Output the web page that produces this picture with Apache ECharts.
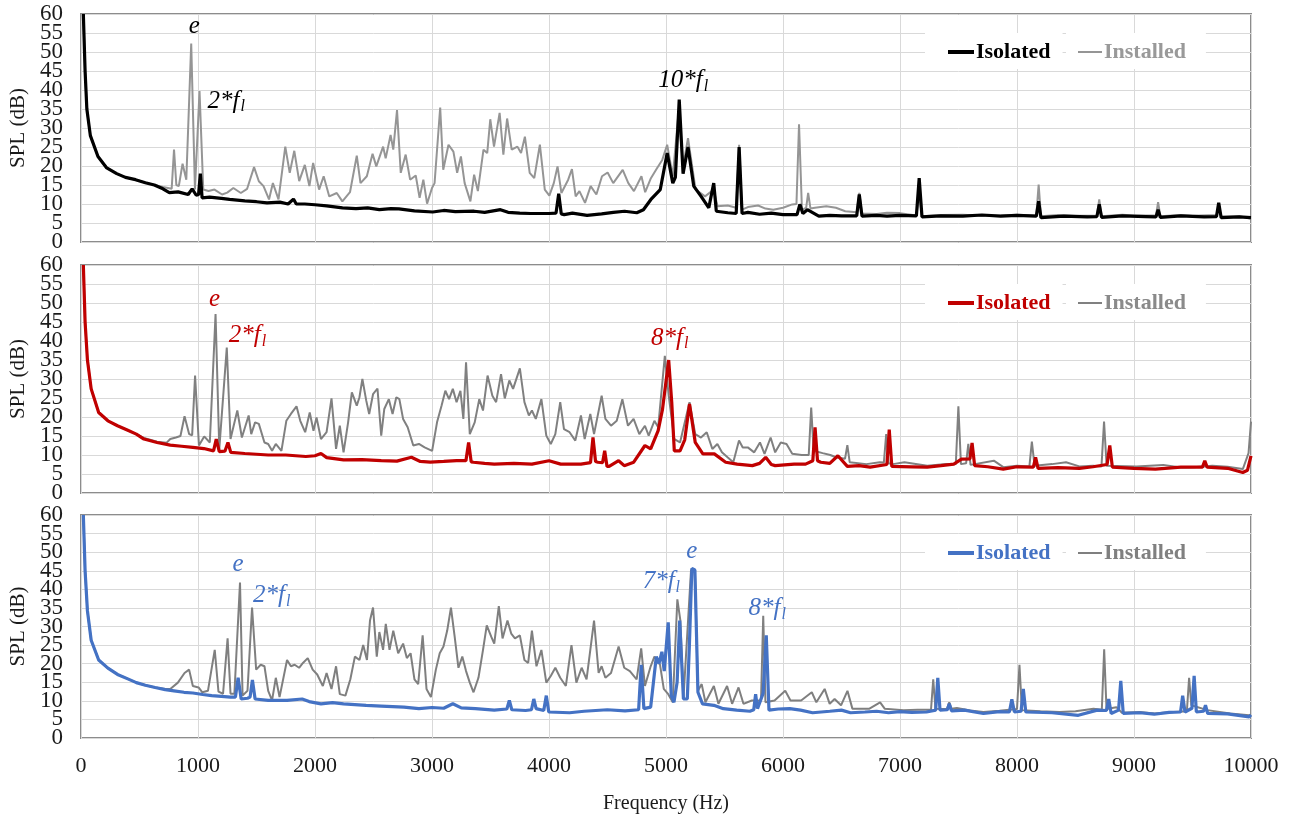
<!DOCTYPE html>
<html>
<head>
<meta charset="utf-8">
<script src="https://cdn.jsdelivr.net/npm/echarts@6/dist/echarts.min.js"></script>
<style>
  html, body { margin: 0; padding: 0; background: #fff; }
  #chart { width: 1292px; height: 815px; }
</style>
</head>
<body>
<div id="chart"></div>
<script>
// Frequency axis ticks (Hz) and SPL ticks (dB)
const freqTicks = [0, 1000, 2000, 3000, 4000, 5000, 6000, 7000, 8000, 9000, 10000];
const splTicks = [0, 5, 10, 15, 20, 25, 30, 35, 40, 45, 50, 55, 60];

// Panel 1 spectra: [frequency Hz, SPL dB]
const isolated1 = [[20,60],[35,45],[50,35],[80,28],[145,22.5],[220,19.5],[305,18],[380,17],[466,16.4],[550,15.6],[627,15],[700,14],[755,13],[830,13.2],[916,12.5],[950,14],[985,12.3],[1005,12.5],[1020,18],[1035,11.6],[1100,11.8],[1200,11.5],[1270,11.2],[1400,10.8],[1500,10.6],[1590,10.3],[1700,10.5],[1770,10],[1816,11.3],[1840,10],[1913,10],[2000,9.8],[2100,9.5],[2235,9],[2350,8.8],[2450,9],[2550,8.5],[2650,8.8],[2717,8.7],[2850,8.2],[3006,7.9],[3100,8.3],[3200,8],[3360,8.1],[3450,7.8],[3585,8.5],[3650,7.8],[3750,7.6],[3842,7.5],[4000,7.5],[4060,7.6],[4083,12.7],[4105,7.4],[4130,7.2],[4200,7.6],[4325,7],[4450,7.4],[4550,7.8],[4646,8.1],[4750,7.7],[4807,8.5],[4871,11.2],[4951,13.8],[5010,23.4],[5058,15.5],[5080,17],[5113,37.5],[5146,18],[5188,25],[5237,14.7],[5300,12],[5366,9],[5408,15.5],[5430,8.1],[5528,7.7],[5600,7.5],[5625,25],[5650,7.5],[5700,7.8],[5800,7.3],[5900,7.6],[6000,7.2],[6120,7.2],[6144,9.9],[6170,7.5],[6208,8.5],[6306,6.8],[6400,7],[6500,6.9],[6630,6.9],[6652,12.5],[6675,6.8],[6800,7],[6889,6.8],[7000,7],[7140,6.9],[7164,16.8],[7188,6.6],[7350,6.9],[7537,6.8],[7700,7.1],[7861,6.8],[8000,7],[8165,6.8],[8185,10.7],[8205,6.4],[8400,6.8],[8600,6.6],[8683,6.7],[8703,9.9],[8723,6.5],[8900,6.9],[9100,6.7],[9188,6.6],[9206,8.5],[9225,6.5],[9400,6.9],[9600,6.6],[9705,6.7],[9724,10.3],[9745,6.4],[9900,6.6],[10000,6.4]];
const installed1 = [[20,60],[35,45],[50,35],[80,28],[145,22.5],[220,19.5],[305,18],[380,17],[466,16.4],[550,15.6],[627,15],[700,14.5],[775,14],[795,24.3],[815,15],[836,14.7],[868,20.6],[900,16.4],[942,52.2],[974,13.8],[1013,39.7],[1045,13.8],[1090,13.4],[1141,13.8],[1206,12.5],[1250,13],[1302,14.2],[1366,12.9],[1420,14],[1479,19.7],[1520,16],[1560,14.7],[1607,11.2],[1640,15.5],[1688,11.2],[1746,25.1],[1784,18.2],[1823,24],[1865,16],[1913,20.3],[1952,14.7],[1984,20.8],[2035,13.8],[2074,17.3],[2122,12],[2186,12.9],[2234,10.7],[2299,13.1],[2357,22.7],[2389,15.5],[2443,17.3],[2492,23.2],[2524,19.9],[2582,25.1],[2604,22],[2646,28.2],[2669,24.3],[2701,34.7],[2733,18.2],[2775,23],[2813,16.4],[2861,17.5],[2894,11.6],[2926,16.4],[2958,10.1],[3000,14.2],[3022,15.5],[3070,35.4],[3096,19],[3141,25.6],[3183,23.8],[3215,18.2],[3247,22.5],[3279,15.5],[3328,10.7],[3360,17.7],[3392,13.4],[3440,24.3],[3472,23.4],[3498,32.3],[3530,25.1],[3578,34],[3610,23],[3642,32.5],[3681,24.3],[3730,25.1],[3761,23.4],[3794,27.7],[3835,18.2],[3874,16.8],[3922,25.6],[3964,13.8],[4003,12.2],[4041,15.5],[4073,19.9],[4106,12.9],[4164,16.4],[4196,19.2],[4228,12],[4260,13.4],[4308,10.3],[4356,14.7],[4405,12.5],[4453,17.3],[4501,18.3],[4549,15.5],[4630,19],[4678,15.5],[4726,13.4],[4790,17.3],[4822,13.1],[4871,16.8],[4919,19.2],[4968,21.6],[5010,25.6],[5058,17.3],[5107,34],[5146,19.9],[5188,27.3],[5253,13.8],[5334,12],[5408,13.8],[5440,9.4],[5528,9.6],[5600,9],[5625,25.6],[5650,8.5],[5700,9.2],[5787,9.6],[5850,8.8],[5917,8.5],[6000,9],[6079,9.9],[6115,10],[6137,31],[6162,8.5],[6198,9],[6215,12.9],[6235,8.8],[6273,9],[6370,9.4],[6452,9],[6532,8.1],[6630,7.8],[6652,12.9],[6675,7.5],[6800,7.4],[6889,7.7],[7000,7.6],[7140,7],[7164,12.5],[7188,6.8],[7350,7.1],[7537,7.2],[7700,6.9],[7861,7],[8000,7.2],[8165,7],[8185,15.1],[8205,6.8],[8350,7.1],[8500,6.9],[8683,7],[8703,11.2],[8723,6.8],[8900,7.2],[9000,7],[9188,7],[9206,10.5],[9225,6.8],[9400,7.1],[9500,6.9],[9705,7.1],[9724,9],[9745,6.7],[9900,6.8],[10000,6.1]];

// Panel 2 spectra
const isolated2 = [[20,60],[35,45],[55,35],[87,27.4],[151,21.2],[230,19],[312,17.7],[400,16.5],[473,15.5],[538,14.2],[650,13.3],[763,12.6],[860,12.3],[956,12],[1050,11.7],[1133,11.1],[1156,14.2],[1182,10.9],[1230,11],[1256,13.3],[1280,10.7],[1400,10.4],[1500,10.2],[1600,10],[1750,10],[1922,9.6],[2000,9.8],[2051,10.4],[2100,9.3],[2244,8.7],[2400,8.8],[2566,8.5],[2700,8.4],[2824,9.4],[2900,8.3],[2985,8.1],[3100,8.3],[3210,8.5],[3290,8.5],[3313,13.3],[3335,8.2],[3355,8.1],[3450,7.8],[3532,7.6],[3700,7.8],[3854,7.6],[4000,8.5],[4100,7.6],[4176,7.6],[4273,7.6],[4355,8],[4376,14.6],[4398,8.3],[4418,8.1],[4458,8],[4476,11.1],[4496,7],[4514,7],[4595,8.5],[4643,7.2],[4724,8.1],[4820,12.5],[4869,11.6],[4933,16.4],[4970,22],[5023,35],[5049,23.9],[5071,11.1],[5120,11.1],[5160,14],[5201,23.4],[5250,13.3],[5315,10.3],[5413,10.3],[5510,8.1],[5608,7.6],[5738,7.2],[5800,7.8],[5852,9.4],[5900,7.5],[5933,7.2],[6095,7.6],[6193,7.6],[6255,8.5],[6274,17.3],[6295,8.5],[6323,8.1],[6400,7.8],[6469,9.8],[6550,7],[6650,7.2],[6745,6.8],[6888,7.5],[6908,16.7],[6930,7],[7100,6.9],[7233,6.8],[7350,7.2],[7460,7.6],[7525,8.9],[7598,9],[7616,13.2],[7638,7.2],[7750,6.9],[7883,6.3],[8000,6.9],[8140,6.8],[8159,9.4],[8180,6.5],[8350,6.7],[8533,6.5],[8650,6.9],[8770,7.5],[8793,12.5],[8815,6.8],[9000,6.5],[9183,6.3],[9400,6.8],[9585,6.8],[9605,8.5],[9625,6.8],[9800,6.5],[9930,5.4],[9970,6],[10000,9.8]];
const installed2 = [[20,60],[35,45],[55,35],[87,27.4],[151,21.2],[230,19],[312,17.7],[400,16.5],[473,15.5],[538,14.5],[650,13.5],[730,13.2],[763,14.2],[811,14.6],[850,15],[885,20.2],[924,15.5],[950,15.2],[975,30.9],[1008,12.5],[1053,14.9],[1101,13.3],[1150,47.1],[1182,11.6],[1246,38.3],[1278,14.2],[1336,21.7],[1375,14.6],[1433,20.4],[1455,15.5],[1488,18.6],[1520,18.2],[1568,13.3],[1600,12.9],[1633,11.1],[1665,12.9],[1713,11.1],[1755,19],[1794,20.8],[1842,22.8],[1874,19],[1916,16],[1955,21.2],[1987,16.4],[2013,19.9],[2051,14.2],[2099,16],[2141,24.9],[2180,11.6],[2212,17.7],[2244,10.7],[2283,18.6],[2315,26.5],[2357,23],[2380,25.2],[2405,30],[2438,24.3],[2463,20.8],[2496,26],[2534,27.5],[2566,15.1],[2592,22.1],[2631,24.7],[2663,20.8],[2695,25.2],[2721,24.7],[2753,19.5],[2792,17.3],[2840,12.5],[2888,12.9],[2937,12],[3001,11.1],[3043,18.6],[3082,23],[3114,26.9],[3146,24.7],[3178,27.4],[3210,23.9],[3243,26.9],[3268,19.5],[3291,34.4],[3323,15.5],[3365,18.6],[3404,24.7],[3436,21.7],[3475,30.9],[3516,25.6],[3548,23.9],[3590,31.3],[3622,24.9],[3661,29.6],[3693,27.4],[3751,32.8],[3790,23.9],[3828,20.4],[3854,21.7],[3887,19.5],[3935,24.7],[3977,15.1],[4015,12.9],[4054,15.5],[4096,23.9],[4128,16.8],[4176,16],[4225,13.8],[4273,20.4],[4305,14.2],[4353,20.8],[4385,15.5],[4450,25.6],[4482,19.5],[4530,17.7],[4579,19],[4627,24.7],[4675,17.7],[4723,19.5],[4772,15.5],[4820,17.7],[4852,15.1],[4901,19],[4933,17.3],[4990,36.1],[5023,25.6],[5071,14.2],[5120,13.3],[5201,23.9],[5250,15.5],[5299,14.6],[5348,16],[5396,11.6],[5439,12.9],[5478,10.7],[5526,9.4],[5575,8.1],[5624,13.8],[5656,12],[5699,12],[5754,10.7],[5803,13.3],[5842,10.3],[5894,14.6],[5933,10.7],[5981,13.3],[6030,12.9],[6079,10.3],[6160,10],[6220,10],[6241,22.5],[6262,11.1],[6339,10.5],[6404,10],[6453,9.4],[6530,9],[6550,12.6],[6570,8.1],[6713,7.6],[6827,8.1],[6862,8],[6882,15.5],[6902,7.8],[6940,7.6],[7038,8.1],[7233,7.2],[7395,7.6],[7477,7.6],[7499,22.8],[7521,7.6],[7565,7.8],[7584,12.9],[7603,7.4],[7802,8.5],[7883,6.8],[8000,7.2],[8106,7],[8127,13.5],[8150,7.2],[8300,7.6],[8419,8.1],[8533,7],[8650,7.2],[8722,7],[8744,18.8],[8766,7.2],[9020,7],[9250,7.4],[9400,6.7],[9508,6.8],[9670,7.2],[9800,6.9],[9930,6.3],[9979,10.5],[10000,18.8]];

// Panel 3 spectra
const isolated3 = [[20,60],[35,45],[55,34.2],[87,26.3],[151,21],[230,18.8],[312,17.1],[400,15.9],[473,14.9],[550,14.2],[634,13.6],[720,13],[795,12.7],[880,12.3],[956,12.1],[1040,11.7],[1117,11.4],[1200,11.2],[1278,11],[1320,11],[1343,16.2],[1369,10.5],[1423,10.7],[1445,11],[1465,15.6],[1488,10.5],[1600,10.1],[1761,10.1],[1890,10.5],[1950,9.8],[2051,9.2],[2150,9.5],[2244,9.2],[2437,8.8],[2566,8.6],[2760,8.3],[2888,7.9],[3000,8.2],[3100,8],[3178,9.2],[3250,8.1],[3371,7.9],[3532,7.5],[3640,7.8],[3661,10.1],[3682,7.6],[3800,7.4],[3850,7.6],[3870,10.5],[3890,7.9],[3955,7.4],[3977,11.4],[3998,7],[4176,6.8],[4300,7.2],[4498,7.6],[4650,7.3],[4766,7.6],[4788,19.7],[4811,7.9],[4869,8.3],[4917,21.9],[4940,20],[4965,23.2],[4985,18],[5019,31.1],[5045,11.4],[5068,9.6],[5095,15],[5117,31.6],[5149,10.5],[5182,10.5],[5200,25],[5221,45.6],[5247,45.2],[5273,12.3],[5312,9.2],[5409,8.8],[5490,7.9],[5604,7.5],[5717,7.2],[5750,7.6],[5766,11.8],[5782,7.9],[5830,12],[5857,27.6],[5880,7.5],[5960,7.8],[6058,7.9],[6150,7.5],[6253,6.8],[6400,7.2],[6500,7.5],[6577,6.8],[6700,7],[6800,7.2],[6902,6.8],[7000,7.1],[7100,6.9],[7226,7],[7305,7.5],[7323,16.2],[7342,7.5],[7405,7.6],[7421,9.2],[7440,7.3],[7550,7.5],[7713,6.6],[7850,7.1],[7935,7],[7956,10.4],[7978,7],[8035,7.2],[8054,13.2],[8075,7],[8300,6.8],[8524,6.1],[8686,7.5],[8765,7.4],[8784,10.5],[8805,6.6],[8868,7.5],[8887,15.4],[8908,6.6],[9050,6.8],[9173,6.4],[9300,6.9],[9398,7],[9416,11.4],[9436,7],[9495,8],[9514,16.7],[9533,7],[9595,7.2],[9611,8.8],[9630,6.6],[9800,6.5],[9984,5.7],[10000,6.2]];
const installed3 = [[20,60],[35,45],[55,34.2],[87,26.3],[151,21],[230,18.8],[312,17.1],[400,15.9],[473,14.9],[550,14.2],[634,13.6],[720,13.2],[763,13.2],[828,14.9],[885,17.5],[924,18.4],[956,14],[1005,13.6],[1037,12.3],[1085,12.7],[1143,23.7],[1175,12.5],[1214,11.9],[1253,26.8],[1278,11.9],[1311,11.9],[1359,41.8],[1381,11.4],[1423,12.7],[1462,35.1],[1497,18.4],[1536,19.7],[1568,19.3],[1600,12.7],[1633,10.1],[1665,16.2],[1697,11],[1761,21],[1794,19.3],[1826,19.7],[1864,18.9],[1897,20.2],[1938,21.5],[1980,18.4],[2019,17.1],[2067,14],[2099,17.5],[2141,13.2],[2180,19.3],[2212,11.8],[2260,11.4],[2302,15.8],[2341,21.9],[2380,21],[2412,25],[2444,21],[2470,31.6],[2496,35.1],[2528,21.9],[2550,28.5],[2582,23.7],[2605,30.7],[2637,23.7],[2669,28.9],[2711,22.8],[2753,25.4],[2785,21.5],[2817,22.8],[2850,15.8],[2882,14.5],[2920,27.6],[2953,13.2],[2991,11],[3033,18.4],[3066,22.8],[3098,24.6],[3130,28.9],[3162,35.1],[3194,27.2],[3226,18.9],[3259,21.9],[3291,18],[3323,14.9],[3355,12.3],[3397,16.2],[3436,23.7],[3468,30.3],[3507,27.2],[3532,25.4],[3571,35.5],[3603,26.8],[3645,31.6],[3677,28.1],[3709,26.8],[3751,27.6],[3790,21],[3822,20.2],[3854,28.9],[3893,19.3],[3935,23.7],[3977,14.9],[4015,16.7],[4054,18.9],[4096,16.2],[4144,14],[4192,25],[4234,14.9],[4279,18.9],[4321,15.8],[4385,31.6],[4424,17.5],[4450,19.3],[4482,16.2],[4530,17.5],[4595,24.6],[4643,18.9],[4691,18],[4749,15.8],[4788,24.1],[4820,14],[4869,19.3],[4901,21.9],[4949,19.7],[4981,13.2],[5019,11.8],[5058,9.6],[5097,37.3],[5123,31.6],[5149,10.5],[5214,45.2],[5247,44.7],[5273,12.7],[5305,14.5],[5337,9.6],[5409,14],[5448,9.2],[5522,14],[5565,9.2],[5620,13.6],[5662,9.2],[5733,10.1],[5782,10.1],[5812,10],[5831,32.9],[5850,9.6],[5928,10.1],[6019,12.7],[6064,10.1],[6155,10.1],[6246,12.3],[6285,9.6],[6356,13.2],[6399,9.2],[6441,10.5],[6496,8.8],[6551,12.7],[6593,7.9],[6739,7.9],[6830,9.6],[6869,7.9],[7031,7.5],[7150,7.6],[7265,7.6],[7284,15.8],[7303,7.9],[7400,7.8],[7421,9.6],[7440,7.9],[7486,8.1],[7600,7.4],[7713,7],[7850,7.3],[8000,7.8],[8021,19.7],[8042,7.5],[8200,7.2],[8362,7],[8500,7.2],[8654,7.9],[8725,7.6],[8745,23.9],[8765,7.8],[8849,8.3],[8897,6.8],[9050,7],[9173,6.6],[9300,6.9],[9452,7.2],[9471,16.2],[9490,8.8],[9627,7.5],[9822,6.6],[9984,6.1],[10000,6.3]];

// Tonal peak annotations: panel, spectrum, peak frequency, text, pixel offset, alignment
const peakNotes = [
  { panel: 0, data: installed1, f: 942,  text: 'e',   dx: 3,   dy: -17, align: 'center' },
  { panel: 0, data: installed1, f: 1013, text: 'f2',  dx: 8,   dy: 10,  align: 'left' },
  { panel: 0, data: isolated1,  f: 5113, text: 'f10', dx: 4,   dy: -19, align: 'center' },
  { panel: 1, data: installed2, f: 1150, text: 'e',   dx: -1,  dy: -15, align: 'center' },
  { panel: 1, data: installed2, f: 1246, text: 'f2',  dx: 2,   dy: -12, align: 'left' },
  { panel: 1, data: isolated2,  f: 5023, text: 'f8',  dx: 1,   dy: -22, align: 'center' },
  { panel: 2, data: installed3, f: 1359, text: 'e',   dx: -2,  dy: -18, align: 'center' },
  { panel: 2, data: installed3, f: 1462, text: 'f2',  dx: 1,   dy: -12, align: 'left' },
  { panel: 2, data: installed3, f: 5097, text: 'f7',  dx: -16, dy: -18, align: 'center' },
  { panel: 2, data: isolated3,  f: 5221, text: 'e',   dx: 0,   dy: -17, align: 'center' },
  { panel: 2, data: installed3, f: 5831, text: 'f8',  dx: 4,   dy: -7,  align: 'center' }
];

const panelColors = ['#000000', '#c00000', '#4472c4'];
const installedColors = ['#959595', '#808080', '#7f7f7f'];
const installedLegendColors = ['#999999', '#8a8a8a', '#808080'];
const serif = '"Liberation Serif", "Times New Roman", serif';

const gridTops = [14, 265, 515];
const gridHeight = 228;

function noteFormatter(text) {
  if (text === 'e') return '{m|e}';
  return '{m|' + text.slice(1) + '*f}{s|l}';
}

function notesFor(panel, data) {
  return peakNotes.filter(n => n.panel === panel && n.data === data).map(n => {
    const pt = n.data.find(p => p[0] === n.f);
    return {
      coord: pt,
      symbol: 'circle',
      symbolSize: 1,
      itemStyle: { color: 'rgba(0,0,0,0)' },
      label: {
        show: true,
        position: 'inside',
        align: n.align,
        verticalAlign: 'middle',
        offset: [n.dx, n.dy],
        formatter: noteFormatter(n.text),
        rich: {
          m: { fontFamily: serif, fontStyle: 'italic', fontSize: 25, color: panelColors[panel] },
          s: { fontFamily: serif, fontStyle: 'italic', fontSize: 16, color: panelColors[panel], padding: [12, 0, 0, 1] }
        }
      }
    };
  });
}

const spectra = [[isolated1, installed1], [isolated2, installed2], [isolated3, installed3]];
const step = splTicks[1] - splTicks[0];

// The SPL tick labels sit closer together than their glyph height, so the
// even and odd ticks are written by two axes sharing the same scale.
function splAxis(i, showEven, withName) {
  return {
    type: 'value', gridIndex: i, position: 'left',
    min: splTicks[0], max: splTicks[splTicks.length - 1], interval: step,
    axisLine: { show: false }, axisTick: { show: false },
    splitLine: { show: withName, lineStyle: { color: '#d9d9d9', width: 1 } },
    axisLabel: {
      fontFamily: serif, fontSize: 23, color: '#1a1a1a', margin: 18,
      formatter: v => (((v / step) % 2 === 0) === showEven ? String(v) : '')
    },
    name: withName ? 'SPL (dB)' : '', nameLocation: 'middle', nameGap: 45, nameRotate: 90,
    nameTextStyle: { fontFamily: serif, fontSize: 21, color: '#1a1a1a' }
  };
}

const grids = [], xAxes = [], yAxes = [], series = [], legends = [];
spectra.forEach(([iso, ins], i) => {
  grids.push({
    left: 81, right: 41, top: gridTops[i], height: gridHeight,
    show: true, borderColor: '#8c8c8c', borderWidth: 2, backgroundColor: '#ffffff'
  });
  const last = i === spectra.length - 1;
  xAxes.push({
    type: 'value', gridIndex: i,
    min: freqTicks[0], max: freqTicks[freqTicks.length - 1], interval: freqTicks[1] - freqTicks[0],
    axisLine: { show: false }, axisTick: { show: false },
    splitLine: { show: true, lineStyle: { color: '#d9d9d9', width: 1 } },
    axisLabel: { show: last, fontFamily: serif, fontSize: 22, color: '#1a1a1a', margin: 17,
                 formatter: v => String(v) },
    name: last ? 'Frequency (Hz)' : '', nameLocation: 'middle', nameGap: 56,
    nameTextStyle: { fontFamily: serif, fontSize: 20, color: '#1a1a1a' }
  });
  const yMain = yAxes.length;
  yAxes.push(splAxis(i, true, true));
  yAxes.push(splAxis(i, false, false));

  const isoName = 'Isolated#' + i, insName = 'Installed#' + i;
  series.push({
    name: insName, type: 'line', xAxisIndex: i, yAxisIndex: yMain, data: ins,
    symbol: 'none', clip: true, animation: false,
    lineStyle: { color: installedColors[i], width: 2 }, itemStyle: { color: installedColors[i] },
    markPoint: { silent: true, animation: false, data: notesFor(i, ins) }
  });
  series.push({
    name: isoName, type: 'line', xAxisIndex: i, yAxisIndex: yMain, data: iso,
    symbol: 'none', clip: true, animation: false,
    lineStyle: { color: panelColors[i], width: 3.2 }, itemStyle: { color: panelColors[i] },
    markPoint: { silent: true, animation: false, data: notesFor(i, iso) }
  });
  // Legend entries, each in its own white box so the swatches can differ in thickness
  const legendBase = {
    orient: 'horizontal', backgroundColor: '#ffffff', icon: 'rect', itemWidth: 26,
    top: gridTops[i] + 19, selectedMode: false,
    formatter: name => name.split('#')[0],
    textStyle: { fontFamily: serif, fontSize: 22, fontWeight: 'bold', padding: [0, 0, 0, -3] }
  };
  legends.push(Object.assign({}, legendBase, {
    left: 925, padding: [8, 12, 6, 23], itemHeight: 4,
    data: [{ name: isoName, textStyle: { color: panelColors[i] } }]
  }));
  legends.push(Object.assign({}, legendBase, {
    left: 1066, padding: [8, 20, 6, 12], itemHeight: 2, itemWidth: 24,
    data: [{ name: insName, textStyle: { color: installedLegendColors[i] } }]
  }));
});

const chart = echarts.init(document.getElementById('chart'), null, { renderer: 'canvas' });
chart.setOption({
  backgroundColor: '#ffffff',
  animation: false,
  grid: grids,
  xAxis: xAxes,
  yAxis: yAxes,
  legend: legends,
  series: series
});
</script>
</body>
</html>
